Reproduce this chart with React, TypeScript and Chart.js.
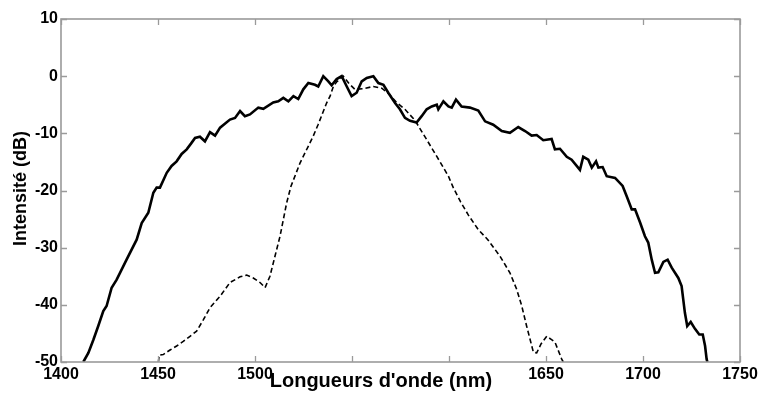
import React, { useEffect, useRef } from "react";
import { Chart, registerables } from "chart.js";

Chart.register(...registerables);

// Solid curve: broadband (supercontinuum) spectrum
const solidNm = [
  1411.5, 1414.1, 1416.7, 1419.2, 1421.8, 1423.5, 1426.1, 1428.7, 1433.8, 1439.0,
  1441.6, 1445.0, 1447.6, 1449.3, 1451.0, 1454.5, 1457.0, 1459.6, 1462.2, 1464.8,
  1467.0, 1469.1, 1471.6, 1474.2, 1476.8, 1479.4, 1482.0, 1487.1, 1489.7, 1492.3,
  1494.8, 1497.4, 1501.7, 1504.3, 1509.4, 1512.0, 1514.6, 1517.2, 1519.8, 1522.3,
  1524.9, 1527.5, 1530.9, 1532.6, 1535.2, 1537.8, 1539.5, 1542.1, 1544.7, 1547.3,
  1549.8, 1552.4, 1555.0, 1557.6, 1561.0, 1563.6, 1566.2, 1568.7, 1572.2, 1574.7,
  1577.3, 1579.9, 1583.3, 1585.9, 1588.5, 1591.1, 1593.7, 1594.5, 1597.1, 1599.7,
  1601.4, 1603.6, 1606.5, 1610.8, 1615.1, 1618.6, 1622.8, 1627.2, 1631.4, 1635.7,
  1639.2, 1642.6, 1645.2, 1648.6, 1652.9, 1654.6, 1657.2, 1660.7, 1663.2, 1667.5,
  1669.2, 1671.8, 1673.6, 1675.8, 1677.0, 1679.2, 1681.3, 1685.6, 1689.5, 1691.6,
  1694.2, 1695.9, 1698.5, 1701.0, 1702.7, 1704.5, 1706.2, 1707.9, 1710.5, 1712.7,
  1714.8, 1718.2, 1719.9, 1721.6, 1722.8, 1724.6, 1726.8, 1729.0, 1730.8, 1732.0,
  1732.8, 1733.2,
];
const solidDb = [
  -50.0, -48.4, -46.1, -43.7, -41.1, -40.2, -37.0, -35.6, -32.1, -28.6,
  -25.7, -23.9, -20.4, -19.5, -19.5, -16.9, -15.7, -14.9, -13.6, -12.8,
  -11.8, -10.8, -10.6, -11.4, -9.8, -10.4, -9.0, -7.6, -7.3, -6.1,
  -7.0, -6.7, -5.5, -5.7, -4.6, -4.4, -3.8, -4.4, -3.5, -4.0,
  -2.3, -1.2, -1.5, -1.8, 0.0, -0.9, -1.6, -0.5, 0.0, -1.8,
  -3.5, -2.9, -0.9, -0.3, 0.0, -1.2, -1.5, -2.9, -4.7, -5.8,
  -7.3, -7.8, -8.1, -7.0, -5.8, -5.3, -5.0, -5.8, -4.4, -5.3,
  -5.5, -4.1, -5.3, -5.5, -6.0, -7.9, -8.5, -9.6, -9.9, -8.9,
  -9.6, -10.4, -10.3, -11.2, -11.0, -12.8, -12.7, -14.1, -14.6, -16.4,
  -14.1, -14.6, -16.0, -14.9, -16.0, -15.9, -17.5, -17.8, -19.2, -21.0,
  -23.3, -23.3, -25.6, -28.0, -29.1, -32.1, -34.4, -34.3, -32.5, -32.1,
  -33.5, -35.3, -36.7, -41.4, -43.7, -43.0, -44.2, -45.2, -45.2, -47.2,
  -49.5, -50.0,
];

// Dashed curve: input spectrum
const dashedNm = [
  1450.2, 1450.6, 1452.7, 1456.2, 1459.6, 1463.0, 1466.5, 1469.9, 1473.4, 1476.8,
  1482.0, 1487.1, 1492.3, 1495.7, 1499.1, 1502.6, 1505.2, 1507.7, 1510.3, 1512.9,
  1514.6, 1516.3, 1518.5, 1523.2, 1530.0, 1532.5, 1536.9, 1538.7, 1540.4, 1542.1,
  1545.5, 1548.5, 1551.5, 1555.8, 1561.0, 1565.3, 1568.7, 1573.0, 1577.3, 1581.6,
  1583.3, 1588.5, 1595.4, 1599.7, 1602.2, 1606.0, 1610.0, 1615.0, 1620.0, 1626.3,
  1631.4, 1634.9, 1637.5, 1640.0, 1643.5, 1645.2, 1647.5, 1650.4, 1652.5, 1654.6,
  1658.1, 1658.9,
];
const dashedDb = [
  -50.0, -48.8, -48.7, -47.9, -47.2, -46.4, -45.5, -44.6, -42.6, -40.5,
  -38.5, -36.1, -35.1, -34.8, -35.3, -36.1, -37.0, -35.0, -31.5, -28.0,
  -25.1, -22.2, -19.3, -15.2, -10.5, -8.5, -4.7, -3.5, -1.8, -1.0,
  0.0, -1.3, -2.3, -2.2, -1.8, -2.1, -3.0, -4.6, -5.8, -7.4,
  -8.2, -11.1, -15.0, -17.5, -19.5, -22.0, -24.3, -26.8, -28.6, -31.5,
  -34.4, -37.3, -40.2, -43.7, -48.3, -48.4, -46.8, -45.5, -46.0, -46.5,
  -49.5, -50.0,
];

const xTicks = [1400, 1450, 1500, 1550, 1600, 1650, 1700, 1750];
// labels hidden under the axis title in the original figure
const xHiddenLabels = [1550, 1600];
const yTicks = [-50, -40, -30, -20, -10, 0, 10];
const xTitle = "Longueurs d'onde (nm)";
const yTitle = "Intensité (dB)";

const FONT = "'Liberation Sans', Arial, Helvetica, sans-serif";
const AXIS_COLOR = "#9a9a9a";

export default function App() {
  const ref = useRef<HTMLCanvasElement | null>(null);

  useEffect(() => {
    if (!ref.current) return;

    const framePlugin = {
      id: "frame",
      afterDatasetsDraw(chart: any) {
        const { ctx, chartArea, scales } = chart;
        const { left, right, top, bottom } = chartArea;
        const len = 6;
        ctx.save();
        ctx.strokeStyle = AXIS_COLOR;
        ctx.lineWidth = 1.3;
        ctx.beginPath();
        for (const v of xTicks) {
          const px = Math.round(scales.x.getPixelForValue(v)) + 0.5;
          ctx.moveTo(px, bottom);
          ctx.lineTo(px, bottom - len);
          ctx.moveTo(px, top);
          ctx.lineTo(px, top + len);
        }
        for (const v of yTicks) {
          const py = Math.round(scales.y.getPixelForValue(v)) + 0.5;
          ctx.moveTo(left, py);
          ctx.lineTo(left + len, py);
          ctx.moveTo(right, py);
          ctx.lineTo(right - len, py);
        }
        ctx.stroke();
        ctx.lineWidth = 1.6;
        ctx.strokeRect(left, top, right - left, bottom - top);
        ctx.restore();
      },
      afterDraw(chart: any) {
        const { ctx, chartArea } = chart;
        ctx.save();
        ctx.fillStyle = "#000";
        // x-axis title
        ctx.font = `bold 20px ${FONT}`;
        ctx.textAlign = "center";
        ctx.textBaseline = "alphabetic";
        ctx.fillText(xTitle, 381, chartArea.bottom + 25);
        // y-axis title
        ctx.font = `bold 18px ${FONT}`;
        ctx.translate(21.5, (chartArea.top + chartArea.bottom) / 2 - 2);
        ctx.rotate(-Math.PI / 2);
        ctx.textAlign = "center";
        ctx.textBaseline = "middle";
        ctx.fillText(yTitle, 0, 0);
        ctx.restore();
      },
    };

    const chart = new Chart(ref.current, {
      type: "line",
      data: {
        datasets: [
          {
            data: solidNm.map((x, i) => ({ x, y: solidDb[i] })),
            borderColor: "#000",
            borderWidth: 2.6,
            pointRadius: 0,
            tension: 0,
            fill: false,
          },
          {
            data: dashedNm.map((x, i) => ({ x, y: dashedDb[i] })),
            borderColor: "#000",
            borderWidth: 1.6,
            borderDash: [5, 3],
            pointRadius: 0,
            tension: 0,
            fill: false,
          },
        ],
      },
      options: {
        responsive: false,
        animation: false,
        events: [],
        layout: { padding: { top: 19, right: 21, left: 0, bottom: 0 } },
        plugins: {
          legend: { display: false },
          tooltip: { enabled: false },
        },
        scales: {
          x: {
            type: "linear",
            min: 1400,
            max: 1750,
            afterBuildTicks: (s: any) => {
              s.ticks = xTicks.map((v) => ({ value: v }));
            },
            ticks: {
              color: "#000",
              font: { family: FONT, size: 16, weight: "bold" },
              padding: 3,
              maxRotation: 0,
              autoSkip: false,
              callback: (v: any) =>
                xHiddenLabels.includes(Number(v)) ? "" : String(v),
            },
            grid: { display: false, drawTicks: false },
            border: { display: false },
            afterFit: (s: any) => {
              s.height = 402 - 362;
              s.paddingLeft = 0;
              s.paddingRight = 0;
            },
          },
          y: {
            type: "linear",
            min: -50,
            max: 10,
            afterBuildTicks: (s: any) => {
              s.ticks = yTicks.map((v) => ({ value: v }));
            },
            ticks: {
              color: "#000",
              font: { family: FONT, size: 16, weight: "bold" },
              padding: 3,
              autoSkip: false,
              callback: (v: any) => String(v),
            },
            grid: { display: false, drawTicks: false },
            border: { display: false },
            afterFit: (s: any) => {
              s.width = 61;
              s.paddingTop = 0;
              s.paddingBottom = 0;
            },
          },
        },
      },
      plugins: [framePlugin],
    });

    return () => chart.destroy();
  }, []);

  return (
    <div
      style={{
        position: "fixed",
        left: 0,
        top: 0,
        width: 761,
        height: 402,
        background: "#fff",
      }}
    >
      <canvas ref={ref} width={761} height={402} style={{ display: "block" }} />
    </div>
  );
}
